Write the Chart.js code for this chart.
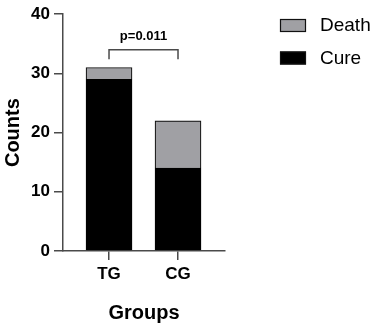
<!DOCTYPE html>
<html>
<head>
<meta charset="utf-8">
<script src="https://cdn.jsdelivr.net/npm/chart.js@4/dist/chart.umd.min.js"></script>
<style>
  html, body { margin: 0; padding: 0; background: #fff; }
  #wrap { width: 374px; height: 325px; }
</style>
</head>
<body>
<div id="wrap"><canvas id="chart"></canvas></div>
<script>
// --- DATA ---
const groups = ['TG', 'CG'];
const cureCounts = [29, 14];
const deathCounts = [2, 8];
const yTicks = [0, 10, 20, 30, 40];
const pValueLabel = 'p=0.011';

// --- STYLE ---
const axisColor = '#4a4a4a';
const deathColor = '#a0a0a4';
const cureColor = '#000000';
const fontFamily = 'Arial, "Liberation Sans", Helvetica, sans-serif';

// bracket drawn between the two groups, in data units
const bracket = { top: 34, bottom: 32.4, text: 36.3 };

// legend drawn on the right, Death first like the figure
const sideLegend = {
    id: 'sideLegend',
    afterDraw(chart) {
        const ctx = chart.ctx;
        const items = chart.data.datasets.slice().reverse();
        ctx.save();
        ctx.font = '19px ' + fontFamily;
        ctx.textBaseline = 'middle';
        items.forEach((ds, i) => {
            const y = 19 + i * 32.5;
            ctx.fillStyle = ds.backgroundColor;
            ctx.fillRect(280, y, 26, 13);
            ctx.strokeStyle = '#111';
            ctx.lineWidth = 1.2;
            ctx.strokeRect(280.5, y + 0.5, 25, 12);
            ctx.fillStyle = '#000';
            ctx.fillText(ds.label, 320, y + 7);
        });
        ctx.restore();
    }
};

// significance bracket over the bars
const pBracket = {
    id: 'pBracket',
    afterDraw(chart) {
        const { ctx, scales: { x, y } } = chart;
        const x0 = x.getPixelForValue(0);
        const x1 = x.getPixelForValue(1);
        const yTop = y.getPixelForValue(bracket.top);
        const yBot = y.getPixelForValue(bracket.bottom);
        ctx.save();
        ctx.strokeStyle = axisColor;
        ctx.lineWidth = 1.5;
        ctx.beginPath();
        ctx.moveTo(x0, yBot);
        ctx.lineTo(x0, yTop);
        ctx.lineTo(x1, yTop);
        ctx.lineTo(x1, yBot);
        ctx.stroke();
        ctx.fillStyle = '#000';
        ctx.font = 'bold 13px ' + fontFamily;
        ctx.textAlign = 'center';
        ctx.textBaseline = 'middle';
        ctx.fillText(pValueLabel, (x0 + x1) / 2, y.getPixelForValue(bracket.text));
        ctx.restore();
    }
};

new Chart(document.getElementById('chart'), {
    type: 'bar',
    data: {
        datasets: [
            {
                label: 'Cure',
                data: groups.map((g, i) => ({ x: i, y: cureCounts[i] })),
                backgroundColor: cureColor,
                borderColor: '#000',
                borderWidth: 1,
                barThickness: 46
            },
            {
                label: 'Death',
                data: groups.map((g, i) => ({ x: i, y: deathCounts[i] })),
                backgroundColor: deathColor,
                borderColor: '#111',
                borderWidth: 1.2,
                barThickness: 46
            }
        ]
    },
    options: {
        responsive: true,
        maintainAspectRatio: false,
        animation: false,
        layout: { padding: { left: 0, top: 9, right: 149, bottom: 0 } },
        plugins: { legend: { display: false }, tooltip: { enabled: false } },
        scales: {
            x: {
                type: 'linear',
                stacked: true,
                offset: false,
                min: -0.667,
                max: 1.681,
                afterBuildTicks: s => { s.ticks = groups.map((g, i) => ({ value: i })); },
                afterFit: s => { s.height = 74; },
                grid: { display: true, offset: false, drawOnChartArea: false, drawTicks: true, tickLength: 9, color: axisColor, lineWidth: 1.5 },
                border: { display: true, color: axisColor, width: 1.5 },
                ticks: {
                    callback: v => groups[v],
                    color: '#000',
                    padding: 4,
                    maxRotation: 0,
                    font: { family: fontFamily, size: 17, weight: 'bold' }
                },
                title: {
                    display: true,
                    text: 'Groups',
                    color: '#000',
                    padding: { top: 0, bottom: 0 },
                    font: { family: fontFamily, size: 20, weight: 'bold' }
                }
            },
            y: {
                stacked: true,
                min: 0,
                max: 40,
                afterBuildTicks: s => { s.ticks = yTicks.map(v => ({ value: v })); },
                afterFit: s => { s.width = 63; },
                grid: { display: true, drawOnChartArea: false, drawTicks: true, tickLength: 9, color: axisColor, lineWidth: 1.5 },
                border: { display: true, color: axisColor, width: 1.5 },
                ticks: {
                    color: '#000',
                    padding: 4,
                    font: { family: fontFamily, size: 17, weight: 'bold' }
                },
                title: {
                    display: true,
                    text: 'Counts',
                    color: '#000',
                    padding: { top: 1, bottom: 0 },
                    font: { family: fontFamily, size: 20, weight: 'bold' }
                }
            }
        }
    },
    plugins: [sideLegend, pBracket]
});
</script>
</body>
</html>
